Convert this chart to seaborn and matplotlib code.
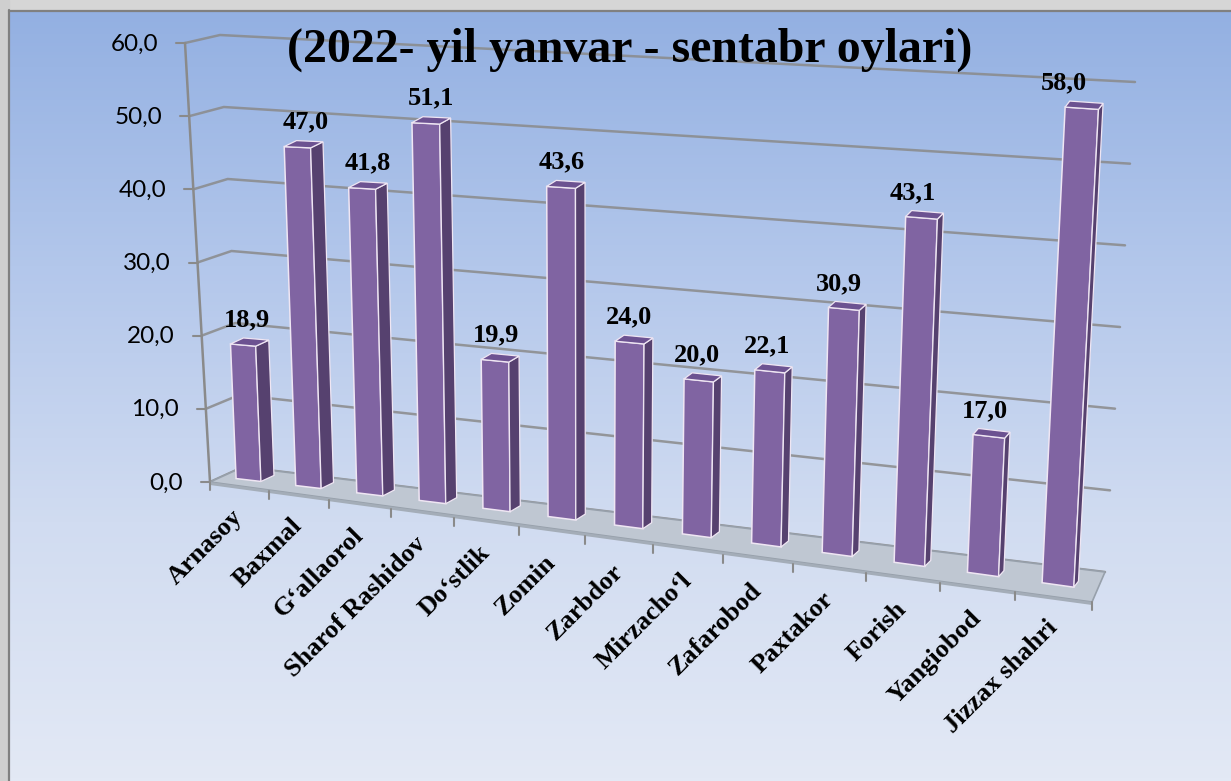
import numpy as np
import pandas as pd
import matplotlib
matplotlib.use("Agg")
import matplotlib.pyplot as plt
import matplotlib.transforms as mtransforms
from matplotlib.patches import Polygon, Rectangle
import seaborn as sns

# ---------------- data ----------------
regions = ["Arnasoy", "Baxmal", "G\u2018allaorol", "Sharof Rashidov", "Do\u2018stlik",
           "Zomin", "Zarbdor", "Mirzacho\u2018l", "Zafarobod", "Paxtakor",
           "Forish", "Yangiobod", "Jizzax shahri"]
values = [18.9, 47.0, 41.8, 51.1, 19.9, 43.6, 24.0, 20.0, 22.1, 30.9, 43.1, 17.0, 58.0]
y_ticks = [0, 10, 20, 30, 40, 50, 60]
y_tick_labels = ["0,0", "10,0", "20,0", "30,0", "40,0", "50,0", "60,0"]
title = "(2022- yil yanvar - sentabr oylari)"

W, H = 1231, 781
SERIF = "Liberation Serif"

# ---------------- perspective helpers (image pixel space) ----------------
def xb(k):
    return 248.5 + 59.27 * k + 0.682 * k ** 2

def yb(k):
    return 480.0 + 6.875 * k + 0.156 * k ** 2

def sc(k):
    return 7.14 + 0.09 * k

def lean(k):
    return -0.04 + 0.0075 * k

def scene(k, v, lf=1.0):
    k = np.asarray(k, float)
    v = np.asarray(v, float)
    h = sc(k) * v
    return xb(k) + lf * lean(k) * h, yb(k) - h


class SceneT(mtransforms.Transform):
    input_dims = 2
    output_dims = 2
    has_inverse = False
    is_separable = False

    def __init__(self, lf=1.0, lift=0.0):
        super().__init__()
        self.lf = lf
        self.lift = lift

    def transform_non_affine(self, values):
        a = np.atleast_2d(np.asarray(values, float))
        x, y = scene(a[:, 0], a[:, 1], self.lf)
        return np.column_stack([x, y - self.lift])


def lerp(p, q, t):
    return (p[0] + (q[0] - p[0]) * t, p[1] + (q[1] - p[1]) * t)

# wall / axis corner geometry
AX_BOT, AX_TOP = (210, 482), (185, 43)
BL_BOT, BL_TOP = (243, 467), (220, 35)
BR_BOT, BR_TOP = (1105, 572), (1135, 82)

def xf(t):
    return 210 + 58.02 * t + 0.756 * t ** 2

def yf(t):
    return 482 + 8.856 * t + 0.0288 * t ** 2

# ---------------- figure ----------------
sns.set_theme(style="white")
plt.rcParams["font.family"] = ["Liberation Sans", "DejaVu Sans"]

fig = plt.figure(figsize=(W / 100, H / 100), dpi=100)
bg = fig.add_axes([0, 0, 1, 1])
bg.set_xlim(0, W)
bg.set_ylim(H, 0)
bg.axis("off")

PANEL_TOP = 10
# slide background strips
bg.add_patch(Rectangle((0, 0), W, PANEL_TOP, color="#d6d6d6", zorder=0.5))
bg.add_patch(Rectangle((0, 0), 9, H, color="#cfcfcf", zorder=0.5))

# panel gradient
grad = np.linspace(0, 1, 256).reshape(-1, 1)
cmap = matplotlib.colors.LinearSegmentedColormap.from_list(
    "panel", ["#93b0e2", "#b3c7eb", "#d1dcf1", "#e3e9f5"])
bg.imshow(grad, extent=(9, W, H, PANEL_TOP), aspect="auto", cmap=cmap, zorder=1)
bg.plot([9, W], [PANEL_TOP + 0.5, PANEL_TOP + 0.5], color="#808080", lw=1.6, zorder=2)
bg.plot([8.5, 8.5], [PANEL_TOP, H], color="#808080", lw=1.6, zorder=2)

grid_c = "#8a8a8a"
for v, lab in zip(y_ticks, y_tick_labels):
    t = v / 60.0
    a = lerp(AX_BOT, AX_TOP, t)
    l = lerp(BL_BOT, BL_TOP, t)
    r = lerp(BR_BOT, BR_TOP, t)
    bg.plot([a[0], l[0], r[0]], [a[1], l[1], r[1]], color=grid_c, lw=1.8,
            alpha=0.85, solid_capstyle="round", zorder=3)
    bg.plot([a[0] - 9, a[0]], [a[1], a[1]], color=grid_c, lw=1.5, zorder=3)
    bg.text(a[0] - 27, a[1] + 1, lab, ha="right", va="center",
            fontsize=17.5, family=["Lato", "DejaVu Sans"], color="black", zorder=4)
bg.plot([AX_BOT[0], AX_TOP[0]], [AX_BOT[1], AX_TOP[1]], color=grid_c, lw=1.8, zorder=3)

# floor slab
fr = (xf(13), yf(13))
floor = Polygon([BL_BOT, BR_BOT, fr, AX_BOT], closed=True,
                facecolor="#bfc7d2", edgecolor="#97a0ab", lw=1.2, zorder=4)
bg.add_patch(floor)
bg.add_patch(Polygon([AX_BOT, fr, (fr[0], fr[1] + 3), (AX_BOT[0], AX_BOT[1] + 3)],
                     closed=True, facecolor="#a4adb8", edgecolor="none", zorder=4))
for t in range(14):
    x0, y0 = xf(t), yf(t)
    bg.plot([x0, x0], [y0, y0 + 8], color=grid_c, lw=1.5, zorder=4)

# ---------------- bars via seaborn ----------------
df = pd.DataFrame({"region": regions, "value": values})
ax = fig.add_axes([0, 0, 1, 1])
ax.patch.set_alpha(0)
sns.barplot(data=df, x="region", y="value", ax=ax, color="#8064a2", saturation=1,
            width=0.42, errorbar=None, edgecolor="#efe6f3", linewidth=1.1, zorder=5)
ax.axis("off")

front_t = SceneT() + bg.transData
for i, p in enumerate(ax.patches):
    p.set_transform(front_t)
    p.set_clip_on(False)
    x0, w, h = p.get_x(), p.get_width(), p.get_height()
    kc = x0 + w / 2
    dx = 13 - 0.7 * kc
    dy = -6.0
    brx, bry = scene(x0 + w, 0)
    trx, try_ = scene(x0 + w, h)
    tlx, tly = scene(x0, h)
    side = Polygon([(brx, bry), (trx, try_), (trx + dx, try_ + dy), (brx + dx, bry + dy)],
                   closed=True, facecolor="#56416f", edgecolor="#efe6f3", lw=0.9,
                   transform=bg.transData, zorder=5, clip_on=False)
    top = Polygon([(tlx, tly), (trx, try_), (trx + dx, try_ + dy), (tlx + dx, tly + dy)],
                  closed=True, facecolor="#6c5291", edgecolor="#efe6f3", lw=0.9,
                  transform=bg.transData, zorder=5, clip_on=False)
    ax.add_patch(side)
    ax.add_patch(top)

# data labels
label_t = SceneT(lf=0.25, lift=19) + bg.transData
for i, v in enumerate(values):
    ax.text(i, v, f"{v:.1f}".replace(".", ","), transform=label_t, ha="center",
            va="baseline", fontsize=19, fontweight="bold", family=SERIF,
            color="black", zorder=6, clip_on=False)

# category labels
for i, name in enumerate(regions):
    t = i + 0.5
    bg.text(xf(t) - 8, yf(t) + 19, name, rotation=45, rotation_mode="anchor",
            ha="right", va="top", fontsize=19, fontweight="bold", family=SERIF,
            color="black", zorder=6)

# title
bg.text(630, 50, title, ha="center", va="center", fontsize=34.5, fontweight="bold",
        family=SERIF, color="black", zorder=7)

fig.savefig("out.png", dpi=100)
